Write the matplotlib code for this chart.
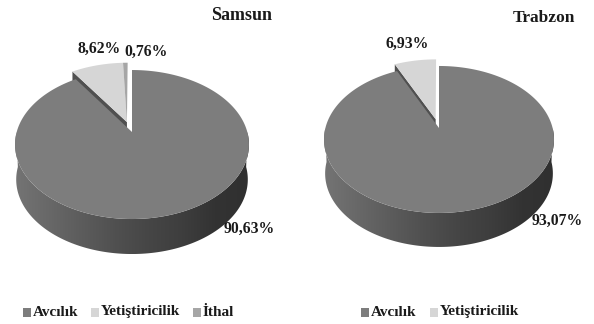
import numpy as np
import matplotlib
matplotlib.use("Agg")
import matplotlib.pyplot as plt
from matplotlib.patches import Polygon, Rectangle
from matplotlib.colors import LinearSegmentedColormap

plt.rcParams["font.family"] = ["Liberation Serif", "DejaVu Serif"]

# ── Data ────────────────────────────────────────────────────────────────────
samsun_names = ["Avcılık", "Yetiştiricilik", "İthal"]
samsun_values = [90.63, 8.62, 0.76]
samsun_labels = ["90,63%", "8,62%", "0,76%"]

trabzon_names = ["Avcılık", "Yetiştiricilik"]
trabzon_values = [93.07, 6.93]
trabzon_labels = ["93,07%", "6,93%"]

COLORS = ["#7d7d7d", "#d6d6d6", "#a6a6a6"]
SIDE_STOPS = ["#747474", "#686868", "#5c5c5c", "#505050", "#464646", "#3e3e3e", "#333333", "#303030"]
side_cmap = LinearSegmentedColormap.from_list("side", SIDE_STOPS)


def project(u, v, geo):
    """Disc coordinates (u right, v back) to canvas pixels, with perspective."""
    w = 1 + geo["k"] * v
    return geo["cx"] + geo["r"] * u / w, geo["cy"] - geo["h"] * v / w


def wedge_points(start, stop, geo, shift=(0.0, 0.0)):
    # angles are clockwise from twelve o'clock, in degrees
    t = np.radians(np.linspace(start, stop, 200))
    u = np.r_[0, np.sin(t)] + shift[0]
    v = np.r_[0, np.cos(t)] + shift[1]
    return np.column_stack(project(u, v, geo))


def draw_pie(ax, values, geo, shift):
    total = sum(values)
    angles = np.cumsum([0] + values) / total * 360

    # rim of the large slice, shaded left to right
    t = np.radians(np.linspace(90, 270, 300))
    x, y = project(np.sin(t), np.cos(t), geo)
    d = geo["depth"]
    xb = geo["cx"] + (x - geo["cx"]) * 0.99
    rim = Polygon(np.r_[np.column_stack([x, y]), np.column_stack([xb, y + d])[::-1]],
                  closed=True, fc="none", ec="none")
    ax.add_patch(rim)
    grad = np.linspace(0, 1, 256).reshape(1, -1)
    img = ax.imshow(grad, cmap=side_cmap, aspect="auto", zorder=2,
                    extent=[x.min(), x.max(), y.max() + d, y.min()])
    img.set_clip_path(rim)

    # cut face of the first pulled-out slice, seen on its left edge
    pts = wedge_points(angles[1], angles[1], geo, shift)[:2]
    face = np.r_[pts, pts[::-1] + [0, d]]
    ax.add_patch(Polygon(face, closed=True, fc="#505050", ec="none", zorder=1))

    # slices: the large one stays in place, the others are pulled back together
    for i in range(1, len(values)):
        ax.add_patch(Polygon(wedge_points(angles[i], angles[i + 1], geo, shift),
                             closed=True, fc=COLORS[i], ec="none", zorder=1.5))
    ax.add_patch(Polygon(wedge_points(angles[0], angles[1], geo),
                         closed=True, fc=COLORS[0], ec="none", zorder=3))


def draw_legend(ax, names, xs, y):
    for i, (name, x) in enumerate(zip(names, xs)):
        ax.add_patch(Rectangle((x, y - 4.5), 8, 9, fc=COLORS[i], ec="none"))
        ax.text(x + 10, y, name, fontsize=11, fontweight="bold", color="#1a1a1a",
                ha="left", va="center")


fig = plt.figure(figsize=(5.94, 3.24), dpi=100)
ax = fig.add_axes([0, 0, 1, 1])
ax.axis("off")

samsun_geo = {"cx": 132, "cy": 132, "r": 115.3, "h": 72.4, "k": 0.168, "depth": 35}
trabzon_geo = {"cx": 439, "cy": 128, "r": 113.6, "h": 71.7, "k": 0.156, "depth": 34}

draw_pie(ax, samsun_values, samsun_geo, (-0.045, 0.14))
draw_pie(ax, trabzon_values, trabzon_geo, (-0.03, 0.125))
ax.set_xlim(0, 594)
ax.set_ylim(324, 0)

ax.text(241.5, 16, "Samsun", fontsize=13, fontweight="bold", color="#1a1a1a", ha="center", va="center")
ax.text(543.5, 18, "Trabzon", fontsize=12.5, fontweight="bold", color="#1a1a1a", ha="center", va="center")

label_style = dict(fontsize=11.3, fontweight="bold", color="#1a1a1a", ha="center", va="center")
ax.text(249, 229, samsun_labels[0], **label_style)
ax.text(99, 49, samsun_labels[1], **label_style)
ax.text(146, 52, samsun_labels[2], **label_style)
ax.text(557, 221, trabzon_labels[0], **label_style)
ax.text(407, 44, trabzon_labels[1], **label_style)

draw_legend(ax, samsun_names, [23, 91, 193], 312)
draw_legend(ax, trabzon_names, [361, 430], 312)

fig.savefig("out.png", dpi=100)
